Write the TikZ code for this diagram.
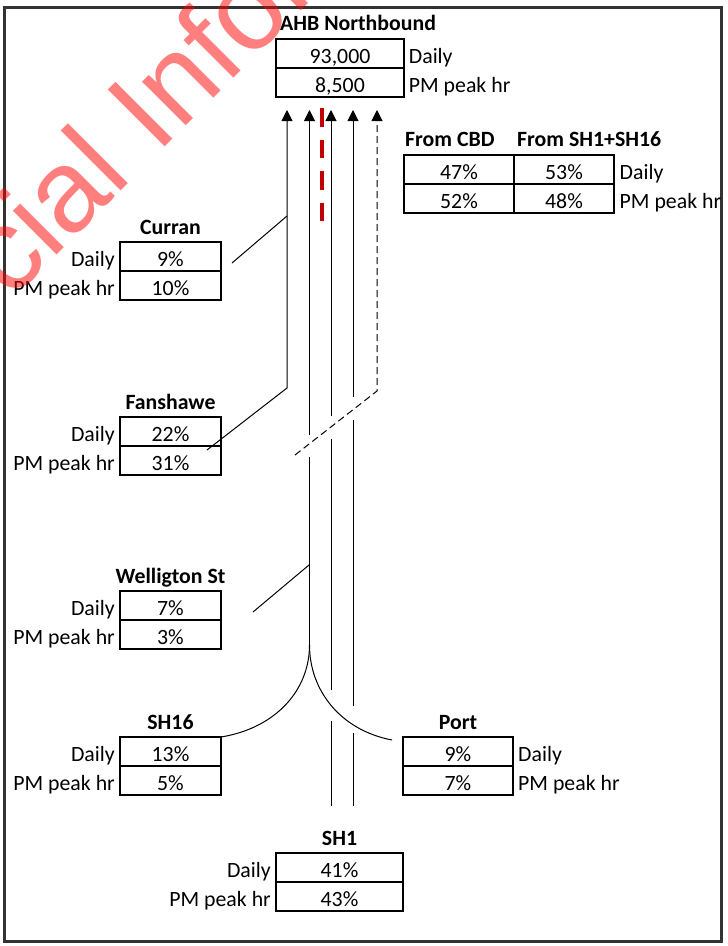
\documentclass[tikz,border=0pt]{standalone}
\usepackage{fontspec}
\setmainfont{Carlito}
\newfontfamily\wmfont{Liberation Sans}
\usetikzlibrary{arrows.meta}
\definecolor{dashred}{RGB}{192,0,0}
\newcommand\fs{\fontsize{21.8}{26}\selectfont}
\tikzset{
  cell/.style={draw, line width=2pt, inner sep=0pt, minimum width=#1, minimum height=29pt,
    text height=19pt, text depth=0pt, anchor=north west, font=\fs},
  lbl/.style={inner sep=0pt, font=\fs},
  hd/.style={inner sep=0pt, font=\fs\bfseries, anchor=base},
  conn/.style={line width=1pt},
  arr/.style={-{Triangle[length=11pt,width=11pt]}},
  wm/.style={rotate=45, inner sep=0pt, font=\wmfont\fontsize{117}{117}\selectfont, text=red, text opacity=0.5},
}
\begin{document}
\begin{tikzpicture}[x=1pt,y=-1pt]
\useasboundingbox (0,0) rectangle (728,946);
% frame
\draw[line width=2.5pt, black!80] (4.5,7.3) rectangle (721.7,941.7);

% AHB Northbound
\node[cell=128pt] (ahbD) at (275,38) {93,000};
\node[cell=128pt] (ahbP) at (275,67) {8,500};
\node[hd, anchor=base west] (ahbH) at ([xshift=5pt,yshift=7.3pt]ahbD.north west) {AHB Northbound};
\node[lbl, anchor=base west] (ahbDl) at ([xshift=3.7pt]ahbD.base east) {Daily};
\node[lbl, anchor=base west] (ahbPl) at ([xshift=3.7pt]ahbP.base east) {PM peak hr};

% From CBD / From SH1+SH16
\node[cell=110pt] (cbdD) at (403,154) {47\%};
\node[cell=110pt] (cbdP) at (403,183) {52\%};
\node[cell=100pt] (shD) at (513,154) {53\%};
\node[cell=100pt] (shP) at (513,183) {48\%};
\node[hd, anchor=base west] (cbdH) at ([xshift=2pt,yshift=7.3pt]cbdD.north west) {From CBD};
\node[hd, anchor=base west] (shH) at ([xshift=4pt,yshift=7.3pt]shD.north west) {From SH1+SH16};
\node[lbl, anchor=base west] (shDl) at ([xshift=4.5pt]shD.base east) {Daily};
\node[lbl, anchor=base west] (shPl) at ([xshift=4.5pt]shP.base east) {PM peak hr};

% Curran
\node[cell=101pt] (curD) at (119,241) {9\%};
\node[cell=101pt] (curP) at (119,270) {10\%};
\node[hd] (curH) at ([yshift=6.5pt]curD.north) {Curran};
\node[lbl, anchor=base east] (curDl) at ([xshift=-4pt]curD.base west) {Daily};
\node[lbl, anchor=base east] (curPl) at ([xshift=-4pt]curP.base west) {PM peak hr};

% Fanshawe
\node[cell=101pt] (fanD) at (119,416) {22\%};
\node[cell=101pt] (fanP) at (119,445) {31\%};
\node[hd] (fanH) at ([yshift=6.5pt]fanD.north) {Fanshawe};
\node[lbl, anchor=base east] (fanDl) at ([xshift=-4pt]fanD.base west) {Daily};
\node[lbl, anchor=base east] (fanPl) at ([xshift=-4pt]fanP.base west) {PM peak hr};

% Welligton St
\node[cell=101pt] (welD) at (119,590) {7\%};
\node[cell=101pt] (welP) at (119,619) {3\%};
\node[hd] (welH) at ([yshift=6.5pt]welD.north) {Welligton St};
\node[lbl, anchor=base east] (welDl) at ([xshift=-4pt]welD.base west) {Daily};
\node[lbl, anchor=base east] (welPl) at ([xshift=-4pt]welP.base west) {PM peak hr};

% SH16
\node[cell=101pt] (s16D) at (119,736) {13\%};
\node[cell=101pt] (s16P) at (119,765) {5\%};
\node[hd] (s16H) at ([yshift=6.5pt]s16D.north) {SH16};
\node[lbl, anchor=base east] (s16Dl) at ([xshift=-4pt]s16D.base west) {Daily};
\node[lbl, anchor=base east] (s16Pl) at ([xshift=-4pt]s16P.base west) {PM peak hr};

% Port
\node[cell=110pt] (portD) at (402,736) {9\%};
\node[cell=110pt] (portP) at (402,765) {7\%};
\node[hd] (portH) at ([yshift=6.5pt]portD.north) {Port};
\node[lbl, anchor=base west] (portDl) at ([xshift=4pt]portD.base east) {Daily};
\node[lbl, anchor=base west] (portPl) at ([xshift=4pt]portP.base east) {PM peak hr};

% SH1
\node[cell=127pt] (s1D) at (275,852) {41\%};
\node[cell=127pt] (s1P) at (275,881) {43\%};
\node[hd] (s1H) at ([yshift=6.5pt]s1D.north) {SH1};
\node[lbl, anchor=base east] (s1Dl) at ([xshift=-4pt]s1D.base west) {Daily};
\node[lbl, anchor=base east] (s1Pl) at ([xshift=-4pt]s1P.base west) {PM peak hr};

% coordinates
\coordinate (l1t) at (287,110);
\coordinate (l1b) at (287,388);
\coordinate (fanE) at (207,450);
\coordinate (curJ) at (287,216);
\coordinate (curE) at (232,263);
\coordinate (l2t) at (309.5,110);
\coordinate (l2a) at (309.5,435);
\coordinate (l2b) at (309.5,457);
\coordinate (cusp) at (309.5,645);
\coordinate (welJ) at (309,565);
\coordinate (welE) at (253,612);
\coordinate (s16E) at (221,737);
\coordinate (portE) at (392,740);
\coordinate (l3t) at (331,110);
\coordinate (l3a) at (331,416);
\coordinate (l3b) at (331,439);
\coordinate (l3c) at (331,690);
\coordinate (l3d) at (331,721);
\coordinate (l3e) at (331,806);
\coordinate (l4t) at (353,110);
\coordinate (l4a) at (353,397);
\coordinate (l4b) at (353,420);
\coordinate (l4c) at (353,706);
\coordinate (l4d) at (353,733);
\coordinate (l4e) at (353,806);
\coordinate (l5t) at (377,110);
\coordinate (l5b) at (377,391);
\coordinate (l5e) at (295,455);
\coordinate (redT) at (322,108);
\coordinate (redB) at (322,222);

% connectors
\draw[conn, arr] (fanE) -- (l1b) -- (l1t);
\draw[conn] (curE) -- (curJ);
\draw[conn, arr] (l2a) -- (l2t);
\draw[conn] (cusp) -- (l2b);
\draw[conn] (welE) -- (welJ);
\draw[conn] (cusp) .. controls (309.5,690) and (276,728) .. (s16E);
\draw[conn] (cusp) .. controls (309.5,690) and (340,730) .. (portE);
\draw[conn, arr] (l3a) -- (l3t);
\draw[conn] (l3c) -- (l3b);
\draw[conn] (l3e) -- (l3d);
\draw[conn, arr] (l4a) -- (l4t);
\draw[conn] (l4c) -- (l4b);
\draw[conn] (l4e) -- (l4d);
\draw[conn, arr, dash pattern=on 7pt off 4pt] (l5e) -- (l5b) -- (l5t);
\draw[line width=3.6pt, dashred, dash pattern=on 18.5pt off 13pt] (redT) -- (redB);

% watermark
\begin{scope}
\clip (0,0) rectangle (728,946);
\node[wm, anchor=base east] (wmA) at (10,302) {Commer};
\node[wm, anchor=base west] (wmB) at (10,302) {cial Information};
\end{scope}
\end{tikzpicture}
\end{document}
